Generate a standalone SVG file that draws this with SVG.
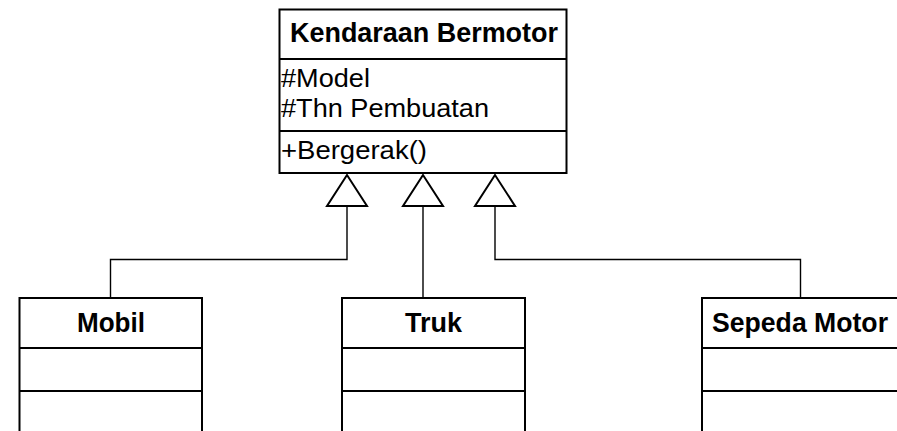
<svg xmlns="http://www.w3.org/2000/svg" width="897" height="431" viewBox="0 0 897 431">
  <defs>
    <style>
      .box { fill: #ffffff; stroke: #000000; stroke-width: 2; }
      .div { stroke: #000000; stroke-width: 2; fill: none; }
      .wire { stroke: #000000; stroke-width: 1.4; fill: none; }
      .head { fill: #ffffff; stroke: #000000; stroke-width: 2; stroke-linejoin: miter; }
      .title { font-family: "Liberation Sans", Arial, sans-serif; font-weight: bold; font-size: 27px; fill: #000000; }
      .member { font-family: "Liberation Sans", Arial, sans-serif; font-size: 26.5px; fill: #000000; }
    </style>
  </defs>
  <rect x="0" y="0" width="897" height="431" fill="#ffffff"/>

  <!-- generalization connectors -->
  <g id="connectors">
    <polyline class="wire" points="347,206 347,259.5 110.5,259.5 110.5,298"/>
    <polyline class="wire" points="423,206 423,298"/>
    <polyline class="wire" points="495,206 495,259.5 800.5,259.5 800.5,298"/>
    <polygon class="head" points="347,175 327,206 367,206"/>
    <polygon class="head" points="423,175 403,206 443,206"/>
    <polygon class="head" points="495,175 475,206 515,206"/>
  </g>

  <!-- superclass -->
  <g id="kendaraan-bermotor">
    <rect class="box" x="279.5" y="9.5" width="287" height="163.5"/>
    <line class="div" x1="279.5" y1="59" x2="566.5" y2="59"/>
    <line class="div" x1="279.5" y1="131" x2="566.5" y2="131"/>
    <text class="title" x="290" y="42" textLength="268" lengthAdjust="spacingAndGlyphs">Kendaraan Bermotor</text>
    <text class="member" x="281" y="87" textLength="89" lengthAdjust="spacingAndGlyphs">#Model</text>
    <text class="member" x="281" y="117" textLength="208" lengthAdjust="spacingAndGlyphs">#Thn Pembuatan</text>
    <text class="member" x="281" y="159" textLength="146" lengthAdjust="spacingAndGlyphs">+Bergerak()</text>
  </g>

  <!-- subclasses -->
  <g id="mobil">
    <rect class="box" x="19.5" y="298" width="182.5" height="150"/>
    <line class="div" x1="19.5" y1="348" x2="202" y2="348"/>
    <line class="div" x1="19.5" y1="391" x2="202" y2="391"/>
    <text class="title" x="111" y="332" text-anchor="middle" textLength="68" lengthAdjust="spacingAndGlyphs">Mobil</text>
  </g>

  <g id="truk">
    <rect class="box" x="342" y="298" width="183" height="150"/>
    <line class="div" x1="342" y1="348" x2="525" y2="348"/>
    <line class="div" x1="342" y1="391" x2="525" y2="391"/>
    <text class="title" x="433.5" y="332" text-anchor="middle" textLength="57" lengthAdjust="spacingAndGlyphs">Truk</text>
  </g>

  <g id="sepeda-motor">
    <rect class="box" x="702" y="298" width="196" height="150"/>
    <line class="div" x1="702" y1="348" x2="898" y2="348"/>
    <line class="div" x1="702" y1="391" x2="898" y2="391"/>
    <text class="title" x="800" y="332" text-anchor="middle" textLength="176" lengthAdjust="spacingAndGlyphs">Sepeda Motor</text>
  </g>
</svg>
